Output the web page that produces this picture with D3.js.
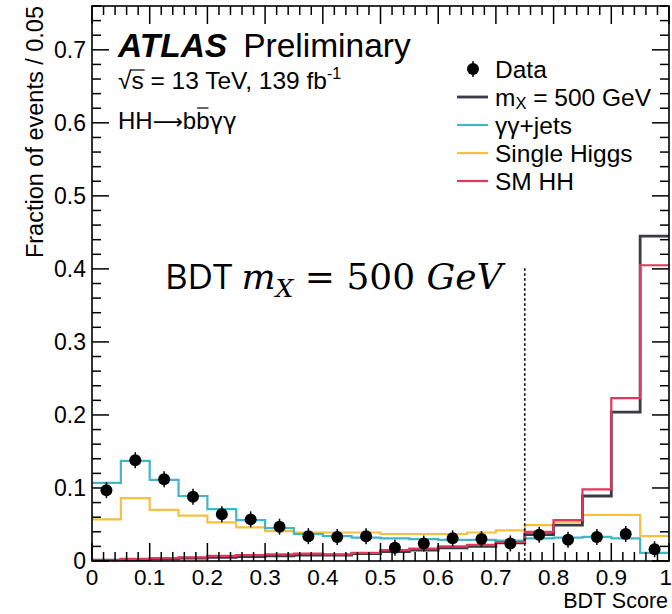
<!DOCTYPE html>
<html><head><meta charset="utf-8">
<script src="https://cdn.jsdelivr.net/npm/d3@7"></script>
<style>body{margin:0;background:#fff}svg{display:block}</style>
</head><body><svg id="c" width="672" height="614"></svg>
<script>
const binEdges = d3.range(0, 1.0001, 0.05).map(v => +v.toFixed(2));
const dataVals = [0.097,0.138,0.112,0.088,0.064,0.057,0.047,0.034,0.033,0.034,0.018,0.024,0.031,0.030,0.024,0.036,0.029,0.033,0.037,0.016];
const mx500 = [0.001,0.002,0.003,0.004,0.005,0.006,0.007,0.008,0.008,0.010,0.013,0.015,0.018,0.020,0.025,0.036,0.049,0.089,0.204,0.445];
const gamjets = [0.107,0.137,0.111,0.089,0.071,0.056,0.045,0.037,0.034,0.032,0.031,0.030,0.029,0.029,0.028,0.031,0.032,0.033,0.031,0.011];
const singleH = [0.057,0.086,0.070,0.062,0.053,0.046,0.041,0.039,0.039,0.039,0.037,0.037,0.037,0.039,0.042,0.049,0.054,0.063,0.063,0.034];
const smHH = [0.001,0.003,0.004,0.005,0.007,0.008,0.009,0.010,0.009,0.011,0.015,0.017,0.020,0.022,0.026,0.040,0.056,0.098,0.223,0.405];
const yTicks = [0,0.1,0.2,0.3,0.4,0.5,0.6,0.7];
const xTicks = [0,0.1,0.2,0.3,0.4,0.5,0.6,0.7,0.8,0.9,1];
const cut = 0.75;

const svg = d3.select('#c');
const L = 92, R = 669, T = 6, B = 561;
const x = d3.scaleLinear().domain([0,1]).range([L,R]);
const y = d3.scaleLinear().domain([0,0.76]).range([B,T]);

svg.append('defs').append('clipPath').attr('id','clip')
  .append('rect').attr('x',L).attr('y',T).attr('width',R-L).attr('height',B-T);

const g = svg.append('g').attr('clip-path','url(#clip)');
const line = d3.line().x(d=>x(d[0])).y(d=>y(d[1])).curve(d3.curveStepAfter);
function pts(vals){ const p = vals.map((v,i)=>[binEdges[i],v]); p.push([1,vals[vals.length-1]]); return p; }

const series = [
  {vals: singleH, color:'#f5c040', w:2.2},
  {vals: gamjets, color:'#44b5c6', w:2.2},
  {vals: mx500, color:'#3a3a48', w:2.8},
  {vals: smHH, color:'#e5375b', w:2.2},
];
series.forEach(s=>{
  g.append('path').attr('d', line(pts(s.vals))).attr('fill','none')
   .attr('stroke', s.color).attr('stroke-width', s.w);
});

// cut line
svg.append('line').attr('x1',x(cut)).attr('x2',x(cut)).attr('y1',y(0.401)).attr('y2',y(0))
  .attr('stroke','#000').attr('stroke-width',1.6).attr('stroke-dasharray','2.5,2.5');

// data points
const centers = dataVals.map((v,i)=>(binEdges[i]+binEdges[i+1])/2);
g.selectAll('line.err').data(dataVals).enter().append('line')
  .attr('x1',(d,i)=>x(centers[i])).attr('x2',(d,i)=>x(centers[i]))
  .attr('y1',d=>y(d)-8).attr('y2',d=>y(d)+8).attr('stroke','#000').attr('stroke-width',1.5);
g.selectAll('circle.pt').data(dataVals).enter().append('circle')
  .attr('cx',(d,i)=>x(centers[i])).attr('cy',d=>y(d)).attr('r',6).attr('fill','#000');

// frame
svg.append('rect').attr('x',L).attr('y',T).attr('width',R-L).attr('height',B-T)
  .attr('fill','none').attr('stroke','#000').attr('stroke-width',1.6);

// ticks
const ax = svg.append('g').attr('stroke','#000').attr('stroke-width',1.5);
d3.range(0,1.0001,0.02).forEach(v=>{
  const major = Math.abs(v*10 - Math.round(v*10))<1e-6;
  const len = major?18:9;
  ax.append('line').attr('x1',x(v)).attr('x2',x(v)).attr('y1',B).attr('y2',B-len);
  ax.append('line').attr('x1',x(v)).attr('x2',x(v)).attr('y1',T).attr('y2',T+len);
});
d3.range(0,0.7601,0.02).forEach(v=>{
  const major = Math.abs(v*10 - Math.round(v*10))<1e-6;
  const len = major?17:9;
  ax.append('line').attr('x1',L).attr('x2',L+len).attr('y1',y(v)).attr('y2',y(v));
  ax.append('line').attr('x1',R).attr('x2',R-len).attr('y1',y(v)).attr('y2',y(v));
});

const font = 'Liberation Sans, Arial, sans-serif';
svg.selectAll('text.yt').data(yTicks).enter().append('text')
  .attr('x',86).attr('y',d=>y(d)+8).attr('text-anchor','end')
  .attr('font-family',font).attr('font-size',23).text(d=>d===0?'0':d3.format('.1f')(d));
svg.selectAll('text.xt').data(xTicks).enter().append('text')
  .attr('x',d=>d===1?672:x(d)).attr('y',585).attr('text-anchor',d=>d===1?'end':'middle')
  .attr('font-family',font).attr('font-size',22.5).text(d=>(d===0||d===1)?String(d):d3.format('.1f')(d));

svg.append('text').attr('x',668).attr('y',608).attr('text-anchor','end')
  .attr('font-family',font).attr('font-size',21.5).text('BDT Score');
svg.append('text').attr('transform','translate(43,6) rotate(-90)').attr('text-anchor','end')
  .attr('font-family',font).attr('font-size',23.5).text('Fraction of events / 0.05');

// ATLAS label
const atl = svg.append('text').attr('x',118).attr('y',57).attr('font-family',font).attr('font-size',33.5);
atl.append('tspan').attr('font-weight','bold').attr('font-style','italic').text('ATLAS');
atl.append('tspan').attr('dx',16).text('Preliminary');

const en = svg.append('text').attr('x',118).attr('y',89).attr('font-family',font).attr('font-size',24.5);
en.append('tspan').text('√s = 13 TeV, 139 fb');
en.append('tspan').attr('dy',-10).attr('font-size',16).text('-1');
{
  const n = en.node();
  const x0 = n.getStartPositionOfChar(1).x, x1 = n.getEndPositionOfChar(1).x;
  svg.append('line').attr('x1',x0-1).attr('x2',x1+1).attr('y1',70).attr('y2',70).attr('stroke','#000').attr('stroke-width',1.2);
}
const hh = svg.append('text').attr('x',118).attr('y',129).attr('font-family',font).attr('font-size',24);
hh.append('tspan').text('HH');
hh.append('tspan').attr('font-family','DejaVu Sans').attr('font-size',21).text('⟶');
hh.append('tspan').text('bb');
hh.append('tspan').attr('font-family','DejaVu Sans').attr('font-size',23).text('γγ');
{
  const n = hh.node();
  const txt = n.textContent; const idx = txt.indexOf('bb')+1;
  const x0 = n.getStartPositionOfChar(idx).x, x1 = n.getEndPositionOfChar(idx).x;
  svg.append('line').attr('x1',x0+1).attr('x2',x1-1).attr('y1',108).attr('y2',108).attr('stroke','#000').attr('stroke-width',1.2);
}

// legend
const lg = svg.append('g');
const legItems = [
  {name:'Data', type:'pt'},
  {name:'mX', color:'#3a3a48', w:2.8},
  {name:'γγ+jets', color:'#44b5c6', w:2.2},
  {name:'Single Higgs', color:'#f5c040', w:2.2},
  {name:'SM HH', color:'#e5375b', w:2.2},
];
legItems.forEach((it,i)=>{
  const cy = 69 + i*28;
  if(it.type==='pt'){
    lg.append('line').attr('x1',473).attr('x2',473).attr('y1',cy-8).attr('y2',cy+8).attr('stroke','#000').attr('stroke-width',1.5);
    lg.append('circle').attr('cx',473).attr('cy',cy).attr('r',6).attr('fill','#000');
  } else {
    lg.append('line').attr('x1',457).attr('x2',488).attr('y1',cy).attr('y2',cy).attr('stroke',it.color).attr('stroke-width',it.w);
  }
  const t = lg.append('text').attr('x',495).attr('y',cy+9).attr('font-family',font).attr('font-size',24.5);
  if(it.name==='mX'){
    t.append('tspan').text('m');
    t.append('tspan').attr('dy',2.5).attr('font-size',16.5).text('X');
    t.append('tspan').attr('dy',-2.5).text(' = 500 GeV');
  } else t.text(it.name);
});

// BDT annotation
const serif = 'DejaVu Serif, Liberation Serif, serif';
const an = svg.append('text').attr('x',165).attr('y',289).attr('font-size',35);
an.append('tspan').attr('font-family','Open Sans, Lato, sans-serif').text('BDT ');
an.append('tspan').attr('font-family',serif).attr('font-style','italic').attr('font-size',36).text('m');
an.append('tspan').attr('font-family',serif).attr('font-style','italic').attr('font-size',25).attr('dy',8).text('X');
an.append('tspan').attr('font-family',serif).attr('font-size',36).attr('dy',-8).text(' = 500 ');
an.append('tspan').attr('font-family',serif).attr('font-style','italic').attr('font-size',36).text('GeV');
</script></body></html>
